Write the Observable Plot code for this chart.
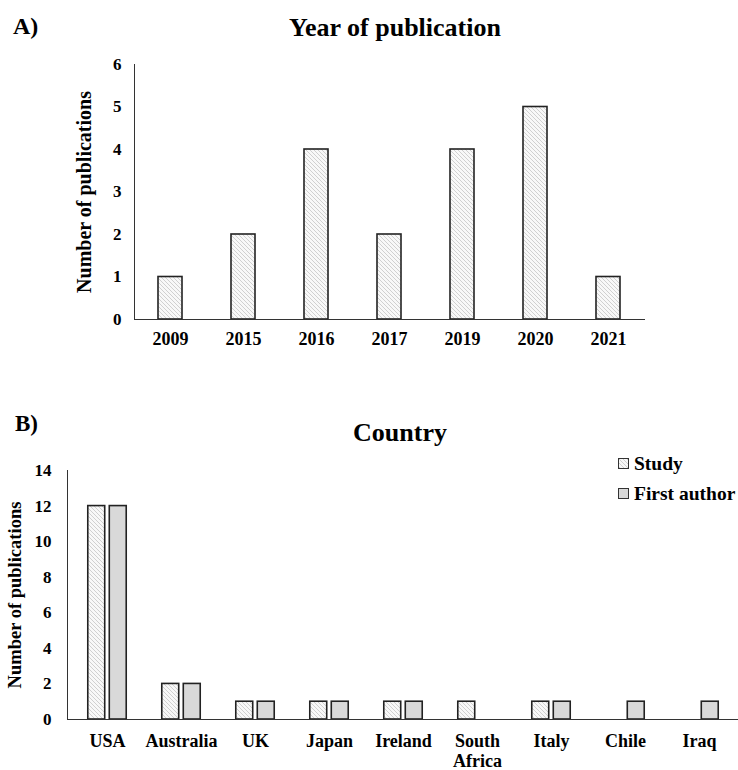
<!DOCTYPE html>
<html><head><meta charset="utf-8">
<script src="https://cdn.jsdelivr.net/npm/d3@7"></script>
<script src="https://cdn.jsdelivr.net/npm/@observablehq/plot@0.6"></script>
<style>
body{margin:0;background:#fff;}
#wrap{position:relative;width:738px;height:770px;overflow:hidden;font-family:"Liberation Serif","Times New Roman",serif;font-weight:bold;color:#000;}
.abs{position:absolute;white-space:nowrap;line-height:1;}
.sw{position:absolute;width:9px;height:9px;border:1px solid #333;}
</style></head><body>
<svg width="0" height="0" style="position:absolute">
  <defs>
    <pattern id="hatch" patternUnits="userSpaceOnUse" width="4" height="4">
      <rect width="4" height="4" fill="#f8f8f8"/>
      <path d="M-1,3 L1,5 M0,0 L4,4 M3,-1 L5,1" stroke="#d0d0d0" stroke-width="1"/>
    </pattern>
  </defs>
</svg>
<div id="wrap">
  <div id="plotA" class="abs" style="left:0;top:0"></div>
  <div id="plotB" class="abs" style="left:0;top:440px"></div>
  <div class="abs" style="left:13px;top:14px;font-size:24px">A)</div>
  <div class="abs" style="left:0;width:790px;text-align:center;top:15px;font-size:26px">Year of publication</div>
  <div class="abs" style="left:15px;top:412px;font-size:23px">B)</div>
  <div class="abs" style="left:0;width:800px;text-align:center;top:420px;font-size:26px">Country</div>
  <div class="sw" style="left:618px;top:458px"><svg width="9" height="9" style="display:block"><rect width="9" height="9" fill="url(#hatch)"/></svg></div>
  <div class="abs" style="left:634px;top:454px;font-size:19.5px">Study</div>
  <div class="sw" style="left:618px;top:488px;background:#d9d9d9"></div>
  <div class="abs" style="left:634px;top:484px;font-size:19.5px">First author</div>
</div>
<script>
// Panel A data
const years = ["2009", "2015", "2016", "2017", "2019", "2020", "2021"];
const yearCounts = [1, 2, 4, 2, 4, 5, 1];
const yearTicks = [0, 1, 2, 3, 4, 5, 6];

// Panel B data
const countries = ["USA", "Australia", "UK", "Japan", "Ireland", "South Africa", "Italy", "Chile", "Iraq"];
const countryLabels = ["USA", "Australia", "UK", "Japan", "Ireland", "South\nAfrica", "Italy", "Chile", "Iraq"];
const studyCounts = [12, 2, 1, 1, 1, 1, 1, 0, 0];
const firstAuthorCounts = [12, 2, 1, 1, 1, 0, 1, 1, 1];
const countryTicks = [0, 2, 4, 6, 8, 10, 12, 14];

const yearData = years.map((y, i) => ({year: y, n: yearCounts[i]}));
const countryData = countries.map((c, i) => ({country: c, study: studyCounts[i], first: firstAuthorCounts[i]}));
const labelOf = Object.fromEntries(countries.map((c, i) => [c, countryLabels[i]]));

const font = {fontFamily: "'Liberation Serif','Times New Roman',serif", fontWeight: "bold", color: "#000", background: "transparent", overflow: "visible"};
const barStyle = {stroke: "#222", strokeWidth: 1.6};

function fixLabel(svg, size) {
  svg.querySelectorAll("text").forEach(t => {
    if (t.textContent.includes("Number")) {
      t.style.fontSize = size;
      t.querySelectorAll("tspan").forEach(s => { s.textContent = s.textContent.replace(/\s*[↑→←↓]\s*/g, ""); });
      if (!t.querySelector("tspan")) t.textContent = t.textContent.replace(/\s*[↑→←↓]\s*/g, "");
    }
  });
}

const A = Plot.plot({
  width: 738, height: 360,
  marginLeft: 134, marginRight: 93, marginTop: 64, marginBottom: 41,
  style: {...font, fontSize: "17px"},
  x: {domain: years, paddingInner: 0.67, paddingOuter: 0.335},
  y: {domain: [0, 6]},
  marks: [
    Plot.barY(yearData, {x: "year", y: "n", fill: "url(#hatch)", ...barStyle}),
    Plot.axisX({tickSize: 0, tickPadding: 13, fontSize: 18, label: null}),
    Plot.axisY({ticks: yearTicks, tickFormat: d => String(d), tickSize: 0, tickPadding: 13, fontSize: 17, label: "Number of publications", labelArrow: "none", labelAnchor: "center", labelOffset: 58}),
    Plot.frame({anchor: "left", stroke: "#333"}),
    Plot.ruleY([0], {stroke: "#333"})
  ]
});
fixLabel(A, "20px");
document.getElementById("plotA").appendChild(A);

const half = 671 / 9 / 2;
const B = Plot.plot({
  width: 738, height: 330,
  marginLeft: 67, marginRight: 0, marginTop: 30, marginBottom: 51,
  style: {...font, fontSize: "17px"},
  x: {domain: countries, padding: 0},
  y: {domain: [0, 14]},
  marks: [
    Plot.barY(countryData, {x: "country", y: "study", filter: d => d.study > 0, fill: "url(#hatch)", insetLeft: half - 19.5, insetRight: half + 2, ...barStyle}),
    Plot.barY(countryData, {x: "country", y: "first", filter: d => d.first > 0, fill: "#d9d9d9", insetLeft: half + 2, insetRight: half - 19.5, ...barStyle}),
    Plot.axisX({tickSize: 0, tickPadding: 14, fontSize: 18, label: null, tickFormat: d => labelOf[d], lineHeight: 1.08}),
    Plot.axisY({ticks: countryTicks, tickFormat: d => String(d), tickSize: 0, tickPadding: 16, fontSize: 17, label: "Number of publications", labelArrow: "none", labelAnchor: "center", labelOffset: 60}),
    Plot.frame({anchor: "left", stroke: "#333"}),
    Plot.ruleY([0], {stroke: "#333"})
  ]
});
fixLabel(B, "18.5px");
document.getElementById("plotB").appendChild(B);
</script>
</body></html>
